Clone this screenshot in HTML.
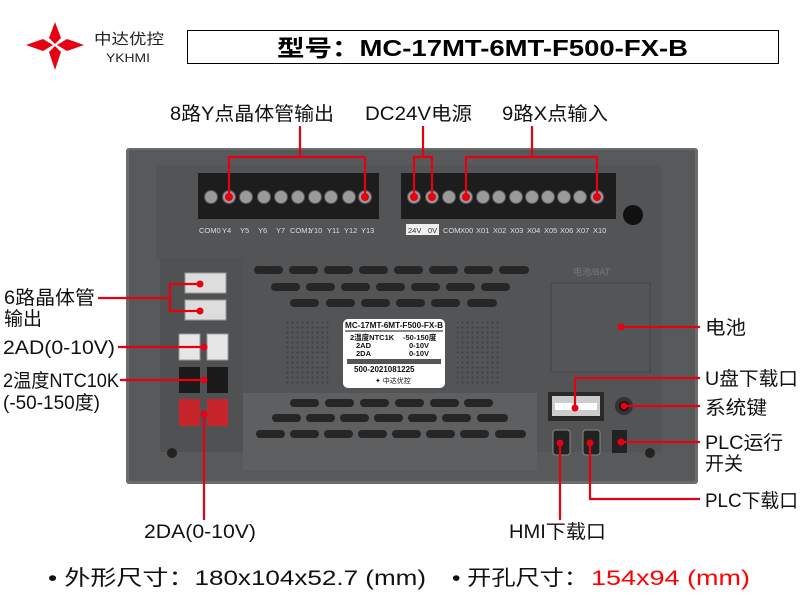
<!DOCTYPE html>
<html><head><meta charset="utf-8"><style>
html,body{margin:0;padding:0;background:#fff;}
svg{display:block;font-family:"Liberation Sans","Noto Sans CJK SC",sans-serif;}
</style></head><body>
<svg width="800" height="600" viewBox="0 0 800 600">
<!-- logo -->
<g fill="#e60012">
<polygon points="55,22 61,38 55,44 49,38"/>
<polygon points="55,46 61,52 55,70 49,52"/>
<polygon points="26,45 43,39 53,45 43,51"/>
<polygon points="57,45 67,39 84,45 67,51"/>
</g>
<text x="94" y="44" font-size="15" fill="#222" textLength="70" lengthAdjust="spacingAndGlyphs">中达优控</text>
<text x="106" y="62" font-size="12" fill="#222" textLength="44" lengthAdjust="spacingAndGlyphs">YKHMI</text>
<rect x="187.5" y="30.5" width="591" height="33" fill="#fff" stroke="#000" stroke-width="1"/>
<text x="277" y="56" font-size="23" font-weight="bold" fill="#000" textLength="411" lengthAdjust="spacingAndGlyphs">型号：MC-17MT-6MT-F500-FX-B</text>

<!-- top labels -->
<g font-size="19" fill="#111">
<text x="170" y="120" textLength="164" lengthAdjust="spacingAndGlyphs">8路Y点晶体管输出</text>
<text x="365" y="120" textLength="107" lengthAdjust="spacingAndGlyphs">DC24V电源</text>
<text x="502" y="120" textLength="106" lengthAdjust="spacingAndGlyphs">9路X点输入</text>
</g>

<!-- device -->
<rect x="126" y="148" width="572" height="336" rx="3" fill="#6b6c6e"/>
<rect x="129" y="150" width="566" height="331" fill="#58595b"/>
<path d="M156,172 Q156,165 163,165 L655,165 Q662,165 662,172 L662,452 L243,452 L243,258 L156,258 Z" fill="#535456"/>
<rect x="160" y="258" width="83" height="194" fill="#505153"/>
<rect x="243" y="393" width="294" height="77" fill="#5e5f61"/>
<!-- terminal blocks -->
<rect x="198" y="173" width="181" height="46" fill="#1d1d1d"/>
<rect x="401" y="173" width="215" height="46" fill="#1d1d1d"/>
<g fill="#9a9a9a" stroke="#555" stroke-width="1">
<circle cx="211" cy="197" r="6.5"/><circle cx="229" cy="197" r="6.5"/><circle cx="246" cy="197" r="6.5"/><circle cx="264" cy="197" r="6.5"/><circle cx="281" cy="197" r="6.5"/><circle cx="298" cy="197" r="6.5"/><circle cx="315" cy="197" r="6.5"/><circle cx="331" cy="197" r="6.5"/><circle cx="349" cy="197" r="6.5"/><circle cx="365" cy="197" r="6.5"/>
<circle cx="414" cy="197" r="6.5"/><circle cx="432" cy="197" r="6.5"/><circle cx="449" cy="197" r="6.5"/><circle cx="466" cy="197" r="6.5"/><circle cx="483" cy="197" r="6.5"/><circle cx="499" cy="197" r="6.5"/><circle cx="516" cy="197" r="6.5"/><circle cx="532" cy="197" r="6.5"/><circle cx="548" cy="197" r="6.5"/><circle cx="564" cy="197" r="6.5"/><circle cx="580" cy="197" r="6.5"/><circle cx="597" cy="197" r="6.5"/>
</g>
<rect x="406" y="224" width="33" height="11" fill="#eee"/>
<g font-size="7.5" fill="#ddd">
<text x="199" y="233">COM0</text><text x="222" y="233">Y4</text><text x="240" y="233">Y5</text><text x="258" y="233">Y6</text><text x="276" y="233">Y7</text><text x="290" y="233">COM1</text><text x="309" y="233">Y10</text><text x="327" y="233">Y11</text><text x="344" y="233">Y12</text><text x="361" y="233">Y13</text>
<text x="408" y="233" fill="#333">24V</text><text x="428" y="233" fill="#333">0V</text><text x="443" y="233">COM</text><text x="460" y="233">X00</text><text x="476" y="233">X01</text><text x="493" y="233">X02</text><text x="510" y="233">X03</text><text x="527" y="233">X04</text><text x="544" y="233">X05</text><text x="560" y="233">X06</text><text x="576" y="233">X07</text><text x="593" y="233">X10</text>
</g>
<circle cx="633" cy="215" r="10" fill="#111"/>
<!-- vents -->
<g fill="#262626">
<rect x="254" y="266" width="29" height="8" rx="4"/><rect x="289" y="266" width="29" height="8" rx="4"/><rect x="324" y="266" width="29" height="8" rx="4"/><rect x="359" y="266" width="29" height="8" rx="4"/><rect x="394" y="266" width="29" height="8" rx="4"/><rect x="429" y="266" width="29" height="8" rx="4"/><rect x="464" y="266" width="29" height="8" rx="4"/><rect x="499" y="266" width="30" height="8" rx="4"/>
<rect x="271" y="283" width="29" height="8" rx="4"/><rect x="306" y="283" width="29" height="8" rx="4"/><rect x="341" y="283" width="29" height="8" rx="4"/><rect x="376" y="283" width="29" height="8" rx="4"/><rect x="411" y="283" width="29" height="8" rx="4"/><rect x="446" y="283" width="29" height="8" rx="4"/><rect x="481" y="283" width="29" height="8" rx="4"/>
<rect x="290" y="299" width="29" height="8" rx="4"/><rect x="326" y="299" width="29" height="8" rx="4"/><rect x="361" y="299" width="29" height="8" rx="4"/><rect x="396" y="299" width="29" height="8" rx="4"/><rect x="431" y="299" width="29" height="8" rx="4"/><rect x="467" y="299" width="30" height="8" rx="4"/>
<rect x="290" y="399" width="29" height="8" rx="4"/><rect x="325" y="399" width="29" height="8" rx="4"/><rect x="360" y="399" width="29" height="8" rx="4"/><rect x="395" y="399" width="29" height="8" rx="4"/><rect x="430" y="399" width="29" height="8" rx="4"/><rect x="464" y="399" width="29" height="8" rx="4"/>
<rect x="272" y="414" width="29" height="8" rx="4"/><rect x="306" y="414" width="29" height="8" rx="4"/><rect x="340" y="414" width="29" height="8" rx="4"/><rect x="374" y="414" width="29" height="8" rx="4"/><rect x="408" y="414" width="29" height="8" rx="4"/><rect x="442" y="414" width="29" height="8" rx="4"/><rect x="477" y="414" width="31" height="8" rx="4"/>
<rect x="256" y="430" width="29" height="8" rx="4"/><rect x="290" y="430" width="29" height="8" rx="4"/><rect x="324" y="430" width="29" height="8" rx="4"/><rect x="358" y="430" width="29" height="8" rx="4"/><rect x="392" y="430" width="29" height="8" rx="4"/><rect x="426" y="430" width="29" height="8" rx="4"/><rect x="460" y="430" width="29" height="8" rx="4"/><rect x="495" y="430" width="31" height="8" rx="4"/>
</g>
<!-- dot grids -->
<defs><pattern id="dg" width="5" height="5" patternUnits="userSpaceOnUse"><circle cx="2.5" cy="2.5" r="1" fill="#3e3e3e"/></pattern></defs>
<rect x="285" y="320" width="45" height="65" fill="url(#dg)"/>
<rect x="457" y="320" width="45" height="65" fill="url(#dg)"/>
<!-- label -->
<rect x="343" y="319" width="102" height="69" rx="5" fill="#fff"/>
<g font-size="8" fill="#111" font-weight="bold">
<text x="345" y="328" textLength="98" lengthAdjust="spacingAndGlyphs">MC-17MT-6MT-F500-FX-B</text>
<line x1="345" y1="331" x2="443" y2="331" stroke="#111" stroke-width="1"/>
<text x="350" y="340" font-size="7.5">2温度NTC1K</text><text x="403" y="340" font-size="7.5">-50-150度</text>
<text x="356" y="348" font-size="7.5">2AD</text><text x="409" y="348" font-size="7.5">0-10V</text>
<text x="356" y="356" font-size="7.5">2DA</text><text x="409" y="356" font-size="7.5">0-10V</text>
</g>
<rect x="347" y="359" width="94" height="5" fill="#555"/>
<text x="354" y="372" font-size="8" fill="#111" font-weight="bold">500-2021081225</text>
<text x="375" y="383" font-size="7" fill="#111">✦ 中达优控</text>
<!-- left connectors -->
<rect x="185" y="273" width="41" height="20" fill="#ddd" stroke="#999"/>
<rect x="185" y="300" width="41" height="20" fill="#ddd" stroke="#999"/>
<rect x="179" y="334" width="21" height="26" fill="#e6e6e6" stroke="#999"/>
<rect x="207" y="334" width="21" height="26" fill="#e6e6e6" stroke="#999"/>
<rect x="179" y="367" width="21" height="26" fill="#1a1a1a"/>
<rect x="207" y="367" width="21" height="26" fill="#1a1a1a"/>
<rect x="179" y="399" width="21" height="27" fill="#c8242b"/>
<rect x="207" y="399" width="21" height="27" fill="#c8242b"/>
<circle cx="172" cy="453" r="5" fill="#222"/><circle cx="650" cy="453" r="5" fill="#222"/>
<!-- battery -->
<text x="573" y="275" font-size="9" fill="#777">电池/BAT</text>
<rect x="551" y="283" width="99" height="89" fill="#55565a" stroke="#444"/>
<!-- ports -->
<rect x="548" y="392" width="56" height="29" fill="#2a2a2a"/>
<rect x="552" y="396" width="48" height="20" fill="#ccc"/>
<rect x="555" y="403" width="42" height="7" fill="#fff"/>
<circle cx="624" cy="406" r="9" fill="#333"/><circle cx="624" cy="406" r="5" fill="#111"/>
<rect x="553" y="430" width="17" height="25" rx="3" fill="#222" stroke="#888"/>
<rect x="583" y="430" width="17" height="25" rx="3" fill="#222" stroke="#888"/>
<rect x="612" y="430" width="15" height="23" fill="#222"/>

<!-- red lines -->
<g stroke="#e60012" stroke-width="2.2" fill="none">
<polyline points="300,126 300,157 229,157 229,197"/><line x1="300" y1="157" x2="365" y2="157"/><line x1="365" y1="157" x2="365" y2="197"/>
<polyline points="423,126 423,157 414,157 414,197"/><polyline points="423,157 432,157 432,197"/>
<polyline points="532,126 532,157 466,157 466,197"/><polyline points="532,157 597,157 597,197"/>
<polyline points="98,298 170,298"/><polyline points="200,284 170,284 170,311 200,311"/>
<line x1="118" y1="347" x2="204" y2="347"/>
<line x1="120" y1="380" x2="204" y2="380"/>
<line x1="204" y1="414" x2="204" y2="520"/>
<line x1="621" y1="327" x2="700" y2="327"/>
<polyline points="575,408 575,378 700,378"/>
<line x1="624" y1="406" x2="700" y2="406"/>
<line x1="621" y1="442" x2="700" y2="442"/>
<line x1="560" y1="443" x2="560" y2="520"/>
<polyline points="590,443 590,499 700,499"/>
</g>
<g fill="#e60012">
<circle cx="229" cy="197" r="4"/><circle cx="365" cy="197" r="4"/><circle cx="414" cy="197" r="4"/><circle cx="432" cy="197" r="4"/><circle cx="466" cy="197" r="4"/><circle cx="597" cy="197" r="4"/>
<circle cx="200" cy="284" r="3.5"/><circle cx="200" cy="311" r="3.5"/><circle cx="204" cy="347" r="3.5"/><circle cx="204" cy="380" r="3.5"/><circle cx="204" cy="414" r="3.5"/>
<circle cx="621" cy="327" r="3.5"/><circle cx="575" cy="408" r="3.5"/><circle cx="624" cy="406" r="3.5"/><circle cx="621" cy="442" r="3.5"/><circle cx="560" cy="443" r="3.5"/><circle cx="590" cy="443" r="3.5"/>
</g>

<!-- side labels -->
<g font-size="19" fill="#111">
<text x="4" y="304" textLength="91" lengthAdjust="spacingAndGlyphs">6路晶体管</text>
<text x="4" y="325">输出</text>
<text x="3" y="354" textLength="112" lengthAdjust="spacingAndGlyphs">2AD(0-10V)</text>
<text x="3" y="387" textLength="116" lengthAdjust="spacingAndGlyphs">2温度NTC10K</text>
<text x="3" y="409" textLength="97" lengthAdjust="spacingAndGlyphs">(-50-150度)</text>
<text x="144" y="538" textLength="112" lengthAdjust="spacingAndGlyphs">2DA(0-10V)</text>
<text x="509" y="538" textLength="97" lengthAdjust="spacingAndGlyphs">HMI下载口</text>
<text x="705" y="334" textLength="41" lengthAdjust="spacingAndGlyphs">电池</text>
<text x="705" y="385" textLength="93" lengthAdjust="spacingAndGlyphs">U盘下载口</text>
<text x="705" y="414" textLength="62" lengthAdjust="spacingAndGlyphs">系统键</text>
<text x="705" y="449" textLength="78" lengthAdjust="spacingAndGlyphs">PLC运行</text>
<text x="705" y="470">开关</text>
<text x="705" y="507" textLength="93" lengthAdjust="spacingAndGlyphs">PLC下载口</text>
</g>
<g font-size="21">
<text x="48" y="585" fill="#111" textLength="378" lengthAdjust="spacingAndGlyphs">• 外形尺寸：180x104x52.7 (mm)</text>
<text x="452" y="585" fill="#111" textLength="136" lengthAdjust="spacingAndGlyphs">• 开孔尺寸：</text>
<text x="591" y="585" fill="#ff0000" textLength="159" lengthAdjust="spacingAndGlyphs">154x94 (mm)</text>
</g>
</svg>
</body></html>
